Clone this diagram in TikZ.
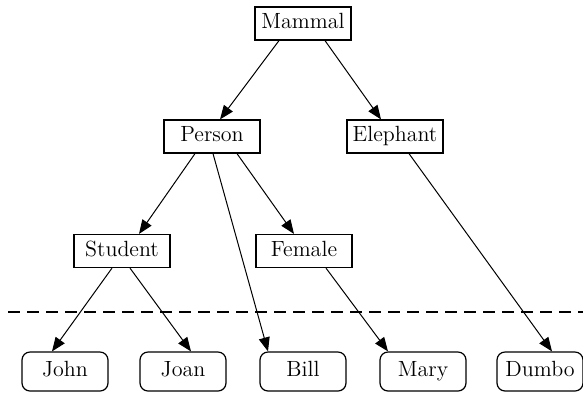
\documentclass[tikz,border=0pt]{standalone}
\usepackage{tikz}
\usetikzlibrary{arrows.meta}

\begin{document}
\begin{tikzpicture}[
        x=0.5pt, y=-0.5pt,
        line width=0.6pt,
        every node/.style={font=\fontsize{11}{13}\selectfont, text height=7.6pt, text depth=2.2pt},
        cls/.style={draw, rectangle, minimum width=48pt, minimum height=16.5pt, inner sep=1pt},
        obj/.style={draw, rectangle, rounded corners=4pt, minimum width=43pt, minimum height=19.5pt, inner sep=1pt},
        isa/.style={-{Triangle[length=7pt,width=5.5pt]}, line width=0.5pt}
    ]
        \useasboundingbox (0,0) rectangle (583,393);
        % classes
        \node[cls] (mammal) at (303,23.5) {Mammal};
        \node[cls] (person) at (212,136.5) {Person};
        \node[cls] (elephant) at (395,136.5) {Elephant};
        \node[cls] (student) at (122,251) {Student};
        \node[cls] (female) at (304,251) {Female};
        % instances
        \foreach \name/\txt/\x in {john/John/65, joan/Joan/183, bill/Bill/303, mary/Mary/423, dumbo/Dumbo/540} {
            \node[obj] (\name) at (\x,371.5) {\txt};
        }
        \draw[dashed, dash pattern=on 6pt off 3.5pt] (8,312) -- (583,312);
        % links
        \draw[isa] ([xshift=-12pt]mammal.south) -- ([xshift=4pt]person.north);
        \draw[isa] ([xshift=11pt]mammal.south) -- ([xshift=-7pt]elephant.north);
        \draw[isa] ([xshift=-8.5pt]person.south) -- ([xshift=8.5pt]student.north);
        \draw[isa] ([xshift=0.5pt]person.south) -- ([xshift=-17.5pt]bill.north);
        \draw[isa] ([xshift=12.5pt]person.south) -- ([xshift=-5pt]female.north);
        \draw[isa] ([xshift=-5pt]student.south) -- ([xshift=-6.5pt]john.north);
        \draw[isa] ([xshift=4pt]student.south) -- ([xshift=4pt]joan.north);
        \draw[isa] ([xshift=11pt]female.south) -- ([xshift=-17.5pt]mary.north);
        \draw[isa] ([xshift=7pt]elephant.south) -- ([xshift=6pt]dumbo.north);
    \end{tikzpicture}
\end{document}
